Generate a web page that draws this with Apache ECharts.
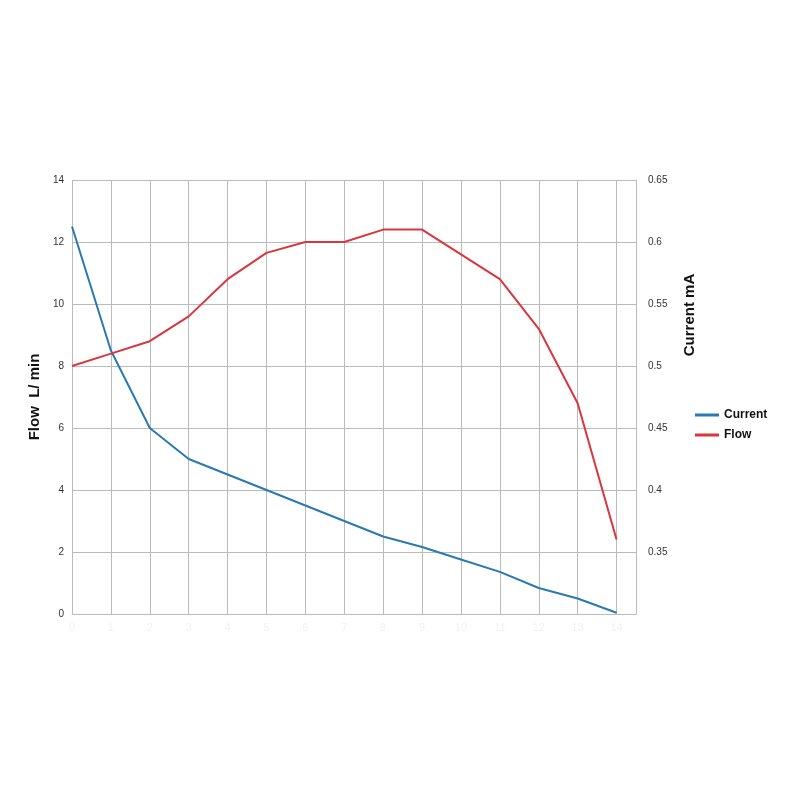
<!DOCTYPE html>
<html><head><meta charset="utf-8">
<script src="https://cdn.jsdelivr.net/npm/echarts@6/dist/echarts.min.js"></script>
<style>html,body{margin:0;background:#fff}#c{width:800px;height:800px}</style>
</head><body><div id="c"></div>
<script>
const xs = [0,1,2,3,4,5,6,7,8,9,10,11,12,13,14];
const flow = [8.0,8.4,8.8,9.6,10.8,11.65,12.0,12.0,12.4,12.4,11.6,10.8,9.2,6.8,2.4];
const current = [0.6125,0.5125,0.45,0.425,0.4125,0.4,0.3875,0.375,0.3625,0.354,0.344,0.334,0.321,0.3125,0.301];
const chart = echarts.init(document.getElementById('c'));
const ff = 'Liberation Sans, Arial, sans-serif';
chart.setOption({
  animation:false,
  grid:{left:72,right:164,top:180,bottom:186},
  graphic:[{type:'text',x:690,y:315,rotation:Math.PI/2,
    style:{text:'Current mA',font:'bold 15px '+ff,fill:'#111',align:'center',verticalAlign:'middle'}}],
  legend:{orient:'vertical',left:690,top:404,itemWidth:24,itemHeight:3,itemGap:8,
    icon:'rect',textStyle:{fontFamily:ff,fontSize:12,fontWeight:'bold',color:'#111'},
    data:['Current','Flow']},
  xAxis:{type:'value',min:0,max:14.5,interval:1,
    axisLine:{show:true,lineStyle:{color:'#bbb'}},axisTick:{show:false},
    axisLabel:{color:'#f2f2f2',fontSize:11,formatter:v=>v<=14?String(v):''},
    splitLine:{show:true,lineStyle:{color:'#bbb'}}},
  yAxis:[
    {type:'value',min:0,max:14,interval:2,name:'Flow  L/ min',nameLocation:'middle',nameGap:25,
     nameTextStyle:{fontFamily:ff,fontSize:15,fontWeight:'bold',color:'#111'},
     axisLine:{show:false},axisTick:{show:false},
     axisLabel:{fontFamily:ff,fontSize:10,color:'#333'},
     splitLine:{lineStyle:{color:'#bbb'}}},
    {type:'value',min:0.3,max:0.65,interval:0.05,position:'right',
     axisLine:{show:true,lineStyle:{color:'#bbb'}},axisTick:{show:false},
     axisLabel:{fontFamily:ff,fontSize:10,color:'#333',margin:12,formatter:v=>v<0.32?'':String(+v.toFixed(2))},
     splitLine:{show:false}}
  ],
  series:[
    {name:'Current',type:'line',yAxisIndex:1,data:xs.map((x,i)=>[x,current[i]]),
     showSymbol:false,lineStyle:{color:'#2a7ab0',width:2},itemStyle:{color:'#2a7ab0'}},
    {name:'Flow',type:'line',yAxisIndex:0,data:xs.map((x,i)=>[x,flow[i]]),
     showSymbol:false,lineStyle:{color:'#d9363e',width:2},itemStyle:{color:'#d9363e'}}
  ]
});
</script></body></html>
